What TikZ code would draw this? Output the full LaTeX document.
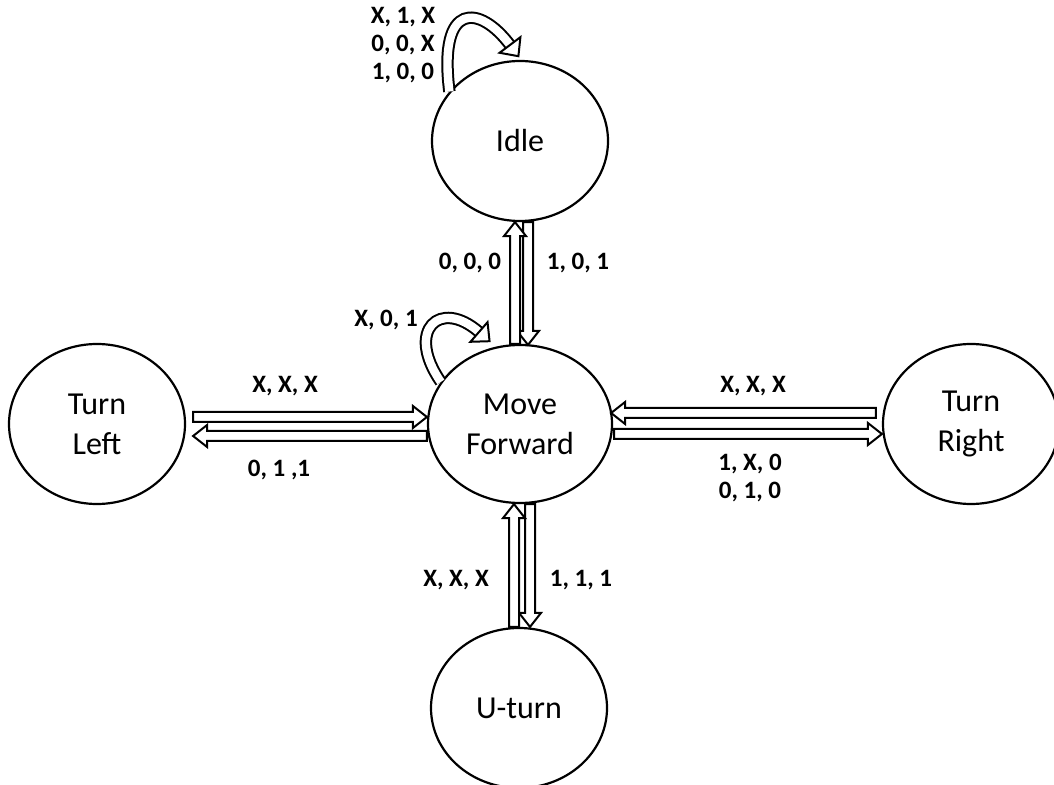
\documentclass[tikz,border=0pt]{standalone}
\usepackage{fontspec}
\setmainfont{Carlito}
\usetikzlibrary{shapes.geometric,calc}
\tikzset{
  state/.style={ellipse, draw, line width=1.1pt, inner sep=0pt, minimum width=88pt, minimum height=80pt, align=center, font=\fontsize{16}{20}\selectfont},
  lab/.style={font=\bfseries\fontsize{12.5}{14}\selectfont, align=center, inner sep=0pt},
  arrowline/.style={draw, line width=1pt, fill=white, line join=miter},
  loopbody/.style={line width=1pt, double=white, double distance=4.2pt},
}
\newcommand\blockarrow[2]{%
  \draw[arrowline] let \p1=(#1), \p2=(#2), \n1={atan2(\y2-\y1,\x2-\x1)}, \n2={veclen(\x2-\x1,\y2-\y1)-7pt} in
  ([shift={(\p1)},rotate=\n1]0pt,2.5pt) -- ([shift={(\p1)},rotate=\n1]\n2,2.5pt) --
  ([shift={(\p1)},rotate=\n1]\n2,5.5pt) -- (\p2) --
  ([shift={(\p1)},rotate=\n1]\n2,-5.5pt) -- ([shift={(\p1)},rotate=\n1]\n2,-2.5pt) --
  ([shift={(\p1)},rotate=\n1]0pt,-2.5pt) -- cycle;}
\newcommand\loophead[2]{%
  \draw[arrowline] let \p1=(#1), \p2=(#2), \n1={atan2(\y2-\y1,\x2-\x1)} in
  ([shift={(\p2)},rotate=\n1]0pt,6.5pt) -- ([shift={(\p2)},rotate=\n1]7pt,0pt) --
  ([shift={(\p2)},rotate=\n1]0pt,-6.5pt) -- cycle;}
\begin{document}
\begin{tikzpicture}[x=0.5pt,y=-0.5pt]
\useasboundingbox (0,0) rectangle (1054,785);
% states
\node[state] (idle) at (520,141) {Idle};
\node[state, minimum width=92pt, minimum height=79pt] (move) at (520,424) {Move\\Forward};
\node[state] (tl) at (97,424) {Turn\\Left};
\node[state] (tr) at (971,424) {Turn\\Right};
\node[state] (ut) at (519,708) {U-turn};
% straight block arrows
\blockarrow{$(tl.east)+(7,-7)$}{$(move.west)+(0,-7)$}
\blockarrow{$(move.west)+(0,12)$}{$(tl.east)+(7,12)$}
\blockarrow{$(tr.west)+(-6,-11)$}{$(move.east)+(-2,-11)$}
\blockarrow{$(move.east)+(1,10)$}{$(tr.west)+(0,10)$}
\blockarrow{$(idle.south)+(8,0)$}{$(move.north)+(8,1)$}
\blockarrow{$(move.north)+(-5,0)$}{$(idle.south)+(-5,0)$}
\blockarrow{$(move.south)+(10,0)$}{$(ut.north)+(11,0)$}
\blockarrow{$(ut.north)+(-5,0)$}{$(move.south)+(-6,0)$}
% self loops
\coordinate (ilE) at (510,45);
\draw[loopbody] (idle.145) .. controls (438,0) and (480,5) .. (ilE);
\loophead{480,5}{ilE}
\coordinate (mlE) at (479,332);
\draw[loopbody] (move.152) .. controls (405,330) and (440,298) .. (mlE);
\loophead{440,298}{mlE}
% labels
\node[lab] (lidle) at (403,45) {X, 1, X\\0, 0, X\\1, 0, 0};
\node[lab] (l000) at (470,263) {0, 0, 0};
\node[lab] (l101) at (578,263) {1, 0, 1};
\node[lab] (lx01) at (386,320) {X, 0, 1};
\node[lab] (ltlin) at (285,386) {X, X, X};
\node[lab] (ltlout) at (279,470) {0, 1 ,1};
\node[lab] (ltrin) at (753,386) {X, X, X};
\node[lab] (ltrout) at (750,478) {1, X, 0\\0, 1, 0};
\node[lab] (lutin) at (456,580) {X, X, X};
\node[lab] (lutout) at (581,580) {1, 1, 1};
\end{tikzpicture}
\end{document}
